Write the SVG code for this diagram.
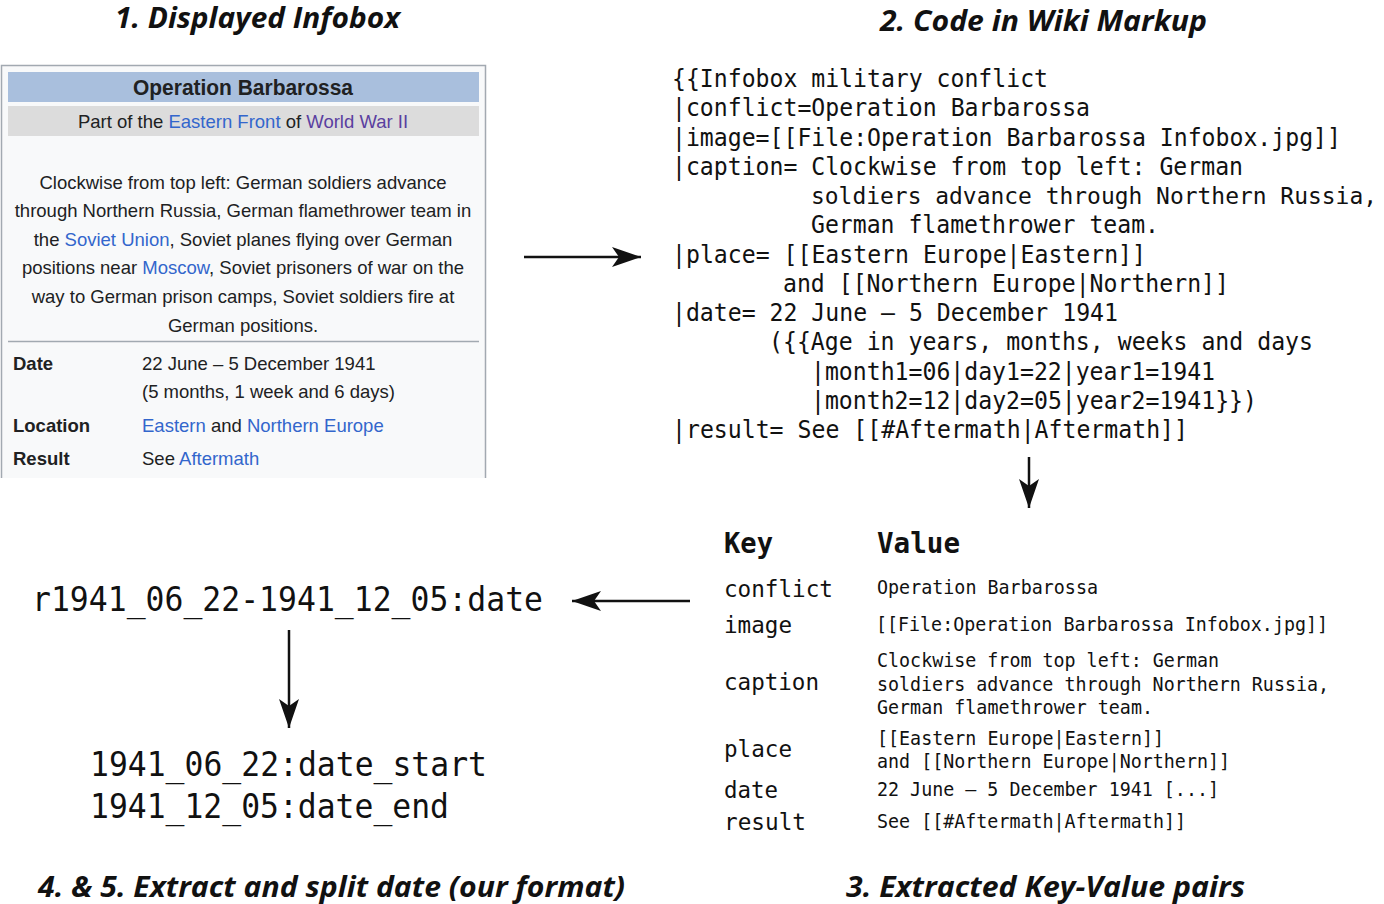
<svg xmlns="http://www.w3.org/2000/svg" width="1384" height="904" viewBox="0 0 1384 904">
<style>
.h{font-family:"Open Sans","DejaVu Sans",sans-serif;font-weight:700;font-style:italic;font-size:28px;fill:#111}
.ib{font-family:"Liberation Sans",Arial,sans-serif;fill:#202122;font-size:18.5px}
.ibb{font-weight:700}
.ibt{font-size:22px}
.lk{fill:#3366cc}
.vl{fill:#5a3fa0}
.code{font-family:"DejaVu Sans Mono",monospace;font-size:24.5px;fill:#111}
.narrow{font-size:22.8px}
.key{font-family:"DejaVu Sans Mono",monospace;font-size:23px;fill:#111}
.kh{font-family:"DejaVu Sans Mono",monospace;font-size:28px;font-weight:700;fill:#111}
.val{font-family:"DejaVu Sans Mono",monospace;font-size:19px;fill:#111}
.big{font-family:"DejaVu Sans Mono",monospace;font-size:33px;fill:#111}
.conn{stroke:#111;stroke-width:2.5;fill:none;marker-end:url(#ah)}
</style>
<defs>
<marker id="ah" markerUnits="userSpaceOnUse" viewBox="-30 -11 31 22" markerWidth="31" markerHeight="22" refX="0" refY="0" orient="auto">
<path d="M0,0 L-29,-10 L-22,0 L-29,10 Z" fill="#111"/>
</marker>
</defs>
<rect width="1384" height="904" fill="#fff"/>

<g id="headings">
<text class="h" x="115" y="28" textLength="285" lengthAdjust="spacingAndGlyphs">1. Displayed Infobox</text>
<text class="h" x="880" y="31" textLength="327" lengthAdjust="spacingAndGlyphs">2. Code in Wiki Markup</text>
<text class="h" x="38" y="897" textLength="587" lengthAdjust="spacingAndGlyphs">4. &amp; 5. Extract and split date (our format)</text>
<text class="h" x="846" y="897" textLength="399" lengthAdjust="spacingAndGlyphs">3. Extracted Key-Value pairs</text>
</g>

<g id="infobox">
<path d="M1.5,478 V65.5 H485.5 V478" fill="#f8f9fa" stroke="#a2a9b1" stroke-width="1.5"/>
<rect x="8" y="72" width="471" height="30" fill="#a9bfdd"/>
<rect x="8" y="106" width="471" height="30" fill="#dcdcdc"/>
<text class="ib ibb ibt" x="243" y="95" text-anchor="middle" textLength="220" lengthAdjust="spacingAndGlyphs">Operation Barbarossa</text>
<text class="ib" x="243" y="128" text-anchor="middle">Part of the <tspan class="lk">Eastern Front</tspan> of <tspan class="vl">World War II</tspan></text>
<text class="ib" x="243" y="189" text-anchor="middle">Clockwise from top left: German soldiers advance</text>
<text class="ib" x="243" y="217" text-anchor="middle">through Northern Russia, German flamethrower team in</text>
<text class="ib" x="243" y="246" text-anchor="middle">the <tspan class="lk">Soviet Union</tspan>, Soviet planes flying over German</text>
<text class="ib" x="243" y="274" text-anchor="middle">positions near <tspan class="lk">Moscow</tspan>, Soviet prisoners of war on the</text>
<text class="ib" x="243" y="303" text-anchor="middle">way to German prison camps, Soviet soldiers fire at</text>
<text class="ib" x="243" y="332" text-anchor="middle">German positions.</text>
<line x1="8" y1="341.5" x2="479" y2="341.5" stroke="#a2a9b1" stroke-width="1.5"/>
<text class="ib ibb" x="13" y="370">Date</text>
<text class="ib" x="142" y="370">22 June – 5 December 1941</text>
<text class="ib" x="142" y="398">(5 months, 1 week and 6 days)</text>
<text class="ib ibb" x="13" y="432">Location</text>
<text class="ib" x="142" y="432"><tspan class="lk">Eastern</tspan> and <tspan class="lk">Northern Europe</tspan></text>
<text class="ib ibb" x="13" y="465">Result</text>
<text class="ib" x="142" y="465">See <tspan class="lk">Aftermath</tspan></text>
</g>

<g id="wiki-markup">
<text class="code" x="672" y="87" textLength="376" lengthAdjust="spacingAndGlyphs">{{Infobox military conflict</text>
<text class="code" x="672" y="116" textLength="418" lengthAdjust="spacingAndGlyphs">|conflict=Operation Barbarossa</text>
<text class="code" x="672" y="145.5" textLength="669" lengthAdjust="spacingAndGlyphs">|image=[[File:Operation Barbarossa Infobox.jpg]]</text>
<text class="code" x="672" y="175" textLength="571" lengthAdjust="spacingAndGlyphs">|caption= Clockwise from top left: German</text>
<text class="code narrow" x="811" y="204" textLength="566" lengthAdjust="spacingAndGlyphs">soldiers advance through Northern Russia,</text>
<text class="code" x="811" y="233" textLength="348" lengthAdjust="spacingAndGlyphs">German flamethrower team.</text>
<text class="code" x="672" y="262.5" textLength="474" lengthAdjust="spacingAndGlyphs">|place= [[Eastern Europe|Eastern]]</text>
<text class="code" x="783" y="292" textLength="446" lengthAdjust="spacingAndGlyphs">and [[Northern Europe|Northern]]</text>
<text class="code" x="672" y="321" textLength="446" lengthAdjust="spacingAndGlyphs">|date= 22 June – 5 December 1941</text>
<text class="code" x="769" y="350" textLength="544" lengthAdjust="spacingAndGlyphs">({{Age in years, months, weeks and days</text>
<text class="code" x="811" y="379.5" textLength="404" lengthAdjust="spacingAndGlyphs">|month1=06|day1=22|year1=1941</text>
<text class="code" x="811" y="409" textLength="446" lengthAdjust="spacingAndGlyphs">|month2=12|day2=05|year2=1941}})</text>
<text class="code" x="672" y="438" textLength="516" lengthAdjust="spacingAndGlyphs">|result= See [[#Aftermath|Aftermath]]</text>
</g>

<g id="key-value">
<text class="kh" x="724" y="553" textLength="49" lengthAdjust="spacingAndGlyphs">Key</text>
<text class="kh" x="877" y="553" textLength="83" lengthAdjust="spacingAndGlyphs">Value</text>
<text class="key" x="724" y="597" textLength="109" lengthAdjust="spacingAndGlyphs">conflict</text>
<text class="key" x="724" y="633" textLength="68" lengthAdjust="spacingAndGlyphs">image</text>
<text class="key" x="724" y="690" textLength="95" lengthAdjust="spacingAndGlyphs">caption</text>
<text class="key" x="724" y="757" textLength="68" lengthAdjust="spacingAndGlyphs">place</text>
<text class="key" x="724" y="798" textLength="54" lengthAdjust="spacingAndGlyphs">date</text>
<text class="key" x="724" y="830" textLength="82" lengthAdjust="spacingAndGlyphs">result</text>
<text class="val" x="877" y="594" textLength="221" lengthAdjust="spacingAndGlyphs">Operation Barbarossa</text>
<text class="val" x="876" y="631" textLength="452" lengthAdjust="spacingAndGlyphs">[[File:Operation Barbarossa Infobox.jpg]]</text>
<text class="val" x="877" y="667" textLength="342" lengthAdjust="spacingAndGlyphs">Clockwise from top left: German</text>
<text class="val" x="877" y="691" textLength="452" lengthAdjust="spacingAndGlyphs">soldiers advance through Northern Russia,</text>
<text class="val" x="877" y="714" textLength="276" lengthAdjust="spacingAndGlyphs">German flamethrower team.</text>
<text class="val" x="877" y="745" textLength="287" lengthAdjust="spacingAndGlyphs">[[Eastern Europe|Eastern]]</text>
<text class="val" x="877" y="768" textLength="353" lengthAdjust="spacingAndGlyphs">and [[Northern Europe|Northern]]</text>
<text class="val" x="877" y="796" textLength="342" lengthAdjust="spacingAndGlyphs">22 June – 5 December 1941 [...]</text>
<text class="val" x="877" y="828" textLength="309" lengthAdjust="spacingAndGlyphs">See [[#Aftermath|Aftermath]]</text>
</g>

<g id="date-range">
<text class="big" x="32" y="611" textLength="511" lengthAdjust="spacingAndGlyphs">r1941_06_22-1941_12_05:date</text>
</g>

<g id="date-split">
<text class="big" x="90" y="776" textLength="397" lengthAdjust="spacingAndGlyphs">1941_06_22:date_start</text>
<text class="big" x="90" y="818" textLength="359" lengthAdjust="spacingAndGlyphs">1941_12_05:date_end</text>
</g>

<g id="connectors">
<line class="conn" x1="524" y1="257" x2="641" y2="257"/>
<line class="conn" x1="1029" y1="457" x2="1029" y2="508"/>
<line class="conn" x1="690" y1="601" x2="572" y2="601"/>
<line class="conn" x1="289" y1="630" x2="289" y2="728"/>
</g>
</svg>
